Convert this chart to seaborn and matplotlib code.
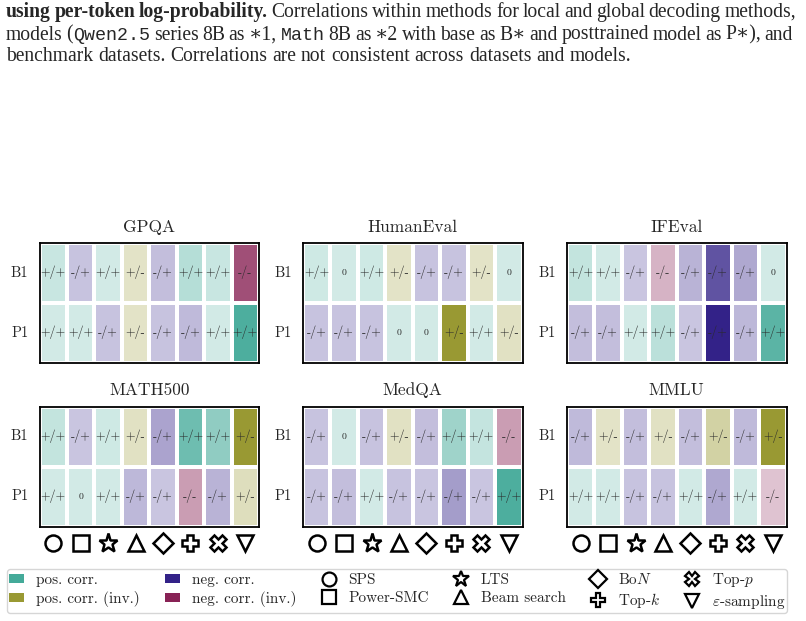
import numpy as np
import pandas as pd
import matplotlib
matplotlib.use("Agg")
import matplotlib.pyplot as plt
import seaborn as sns
from matplotlib.colors import ListedColormap, to_rgb
from matplotlib.patches import Patch
from matplotlib.lines import Line2D

# 数据
datasets = ["GPQA", "HumanEval", "IFEval", "MATH500", "MedQA", "MMLU"]
models = ["B1", "P1"]
methods = ["SPS", "Power-SMC", "LTS", "Beam search", "BoN", "Top-k", "Top-p", "eps-sampling"]
method_markers = ["o", "s", "*", "^", "D", "P", "X", "v"]
method_labels = ["SPS", "Power-SMC", "LTS", "Beam search", r"Bo$N$", r"Top-$k$", r"Top-$p$", r"$\varepsilon$-sampling"]

gpqa_signs = [["+/+", "-/+", "+/+", "+/-", "-/+", "+/+", "+/+", "-/-"],
              ["+/+", "+/+", "-/+", "+/-", "-/+", "-/+", "+/+", "+/+"]]
gpqa_strength = [[.30, .28, .25, .28, .30, .40, .30, .80],
                 [.25, .25, .28, .28, .28, .32, .25, .95]]

humaneval_signs = [["+/+", "0", "+/+", "+/-", "-/+", "-/+", "+/-", "0"],
                   ["-/+", "-/+", "-/+", "0", "0", "+/-", "+/+", "+/-"]]
humaneval_strength = [[.27, .25, .27, .28, .28, .28, .28, .25],
                      [.28, .28, .28, .25, .25, 1.0, .25, .30]]

ifeval_signs = [["+/+", "+/+", "-/+", "-/-", "-/+", "-/+", "-/+", "0"],
                ["-/+", "-/+", "+/+", "+/+", "-/+", "-/+", "-/+", "+/+"]]
ifeval_strength = [[.33, .25, .27, .35, .35, .78, .40, .25],
                   [.30, .30, .25, .37, .27, 1.0, .33, .88]]

math500_signs = [["+/+", "-/+", "+/+", "+/-", "-/+", "+/+", "+/+", "+/-"],
                 ["+/+", "0", "+/+", "-/+", "-/+", "-/-", "-/+", "+/-"]]
math500_strength = [[.33, .27, .27, .30, .42, .78, .60, 1.0],
                    [.25, .25, .25, .33, .27, .45, .35, .33]]

medqa_signs = [["-/+", "0", "-/+", "+/-", "-/+", "+/+", "+/+", "-/-"],
               ["-/+", "-/+", "+/+", "-/+", "-/+", "-/+", "-/+", "+/+"]]
medqa_strength = [[.28, .25, .28, .30, .30, .52, .32, .45],
                  [.28, .30, .25, .28, .27, .45, .27, .95]]

mmlu_signs = [["-/+", "+/-", "-/+", "+/-", "-/+", "+/-", "-/+", "+/-"],
              ["+/+", "+/+", "-/+", "-/+", "+/+", "-/+", "+/+", "-/-"]]
mmlu_strength = [[.32, .28, .30, .30, .30, .45, .32, 1.0],
                 [.25, .25, .28, .28, .25, .40, .25, .28]]

all_signs = [gpqa_signs, humaneval_signs, ifeval_signs, math500_signs, medqa_signs, mmlu_signs]
all_strength = [gpqa_strength, humaneval_strength, ifeval_strength,
                math500_strength, medqa_strength, mmlu_strength]

# 颜色
base_colors = ["#44AA99", "#999933", "#332288", "#882255"]
legend_names = ["pos. corr.", "pos. corr. (inv.)", "neg. corr.", "neg. corr. (inv.)"]
sign_cat = {"+/+": 0, "0": 0, "+/-": 1, "-/+": 2, "-/-": 3}

cols = []
for c in base_colors:
    rgb = np.array(to_rgb(c))
    for s in np.linspace(0, 1, 100):
        cols.append((1 - s) * np.ones(3) + s * rgb)
cell_cmap = ListedColormap(cols)

sns.set_style("white")
plt.rcParams['font.family'] = ['cmr10', 'DejaVu Serif']
plt.rcParams['axes.formatter.use_mathtext'] = True
plt.rcParams['mathtext.fontset'] = 'cm'

W, H = 806, 621
fig = plt.figure(figsize=(W / 100, H / 100), dpi=100)
renderer = fig.canvas.get_renderer()

# 标题说明文字 (两端对齐)
serif = dict(family=['Liberation Serif', 'DejaVu Serif'], fontsize=14.1)
bold = dict(serif, fontweight='bold')
mono = dict(family=['Liberation Mono', 'DejaVu Sans Mono'], fontsize=13.2)


def seg_width(txt, kw):
    t = fig.text(0, 0, txt, **kw)
    w = t.get_window_extent(renderer).width
    t.remove()
    return w


def put_line(words, y_px, x0, x1, justify=True):
    widths = [sum(seg_width(s, kw) for s, kw in w) for w in words]
    space = seg_width("a a", serif) - seg_width("aa", serif)
    if justify:
        space = (x1 - x0 - sum(widths)) / (len(words) - 1)
    x = x0
    for w, ww in zip(words, widths):
        xx = x
        for s, kw in w:
            fig.text(xx / W, 1 - y_px / H, s, va='baseline', ha='left', **kw)
            xx += seg_width(s, kw)
        x += ww + space


def plain(line, kw=serif):
    return [[(w, kw)] for w in line.split()]


line1 = plain("using per-token log-probability.", bold) + \
    plain("Correlations within methods for local and global decoding methods,")
line2 = [[("models", serif)], [("(", serif), ("Qwen2.5", mono)], [("series", serif)],
         [("8B", serif)], [("as", serif)], [("\u22171,", serif)], [("Math", mono)],
         [("8B", serif)], [("as", serif)], [("\u22172", serif)]] + \
    plain("with base as B\u2217 and posttrained model as P\u2217), and")
line3 = plain("benchmark datasets. Correlations are not consistent across datasets and models.")
put_line(line1, 17, 6, 796)
put_line(line2, 39.5, 6, 793)
put_line(line3, 61, 6, 792, justify=False)

# 热力图
col_left = [39.5, 303, 567]
row_top = [242.7, 406.5]
ax_w, ax_h = 219.5, 120

for k, name in enumerate(datasets):
    r, c = divmod(k, 3)
    ax = fig.add_axes([col_left[c] / W, 1 - (row_top[r] + ax_h) / H, ax_w / W, ax_h / H])
    signs = np.array(all_signs[k])
    vals = np.vectorize(sign_cat.get)(signs) + 0.99 * np.array(all_strength[k]) + 0.001
    df = pd.DataFrame(vals, index=models, columns=methods)
    sns.heatmap(df, ax=ax, cmap=cell_cmap, vmin=0, vmax=4, cbar=False,
                annot=signs, fmt="", linewidths=1.5, linecolor='white',
                annot_kws=dict(fontsize=8.8, color='#2a2a2a'))
    for t in ax.texts:
        if t.get_text() == "0":
            t.set_fontsize(7)
    for sp in ax.spines.values():
        sp.set_visible(True)
        sp.set_color('black')
        sp.set_linewidth(1.3)
    ax.set_title(name, fontsize=12.5, pad=8)
    ax.set_xlabel("")
    ax.set_ylabel("")
    ax.set_xticklabels([])
    ax.set_yticklabels(models, rotation=0, fontsize=10.5)
    ax.tick_params(axis='both', length=5, width=1.2, color='black', pad=3)
    if r == 1:
        for i, m in enumerate(method_markers):
            size = {"*": 14, "D": 10, "^": 11, "v": 11}.get(m, 11.5)
            ax.plot(i + 0.5, -0.135, marker=m, ms=size,
                    mfc='white', mec='black', mew=1.8, ls='none',
                    transform=ax.get_xaxis_transform(), clip_on=False)

# 图例
patches = [Patch(facecolor=base_colors[i], edgecolor='none', label=legend_names[i]) for i in range(4)]
marks = [Line2D([], [], marker=m, ls='none', mfc='white', mec='black', mew=1.6,
                ms={"*": 12, "D": 9}.get(m, 10), label=lab)
         for m, lab in zip(method_markers, method_labels)]
handles = patches + marks
fig.legend(handles=handles, ncol=6, loc='center', bbox_to_anchor=(0.4926, 1 - 591 / H),
           fontsize=11, frameon=True, edgecolor='#cccccc', handlelength=1.0,
           handleheight=0.55, handletextpad=0.8, columnspacing=1.6, labelspacing=0.3,
           borderpad=0.12, fancybox=True)

plt.savefig("out.png", dpi=100)
